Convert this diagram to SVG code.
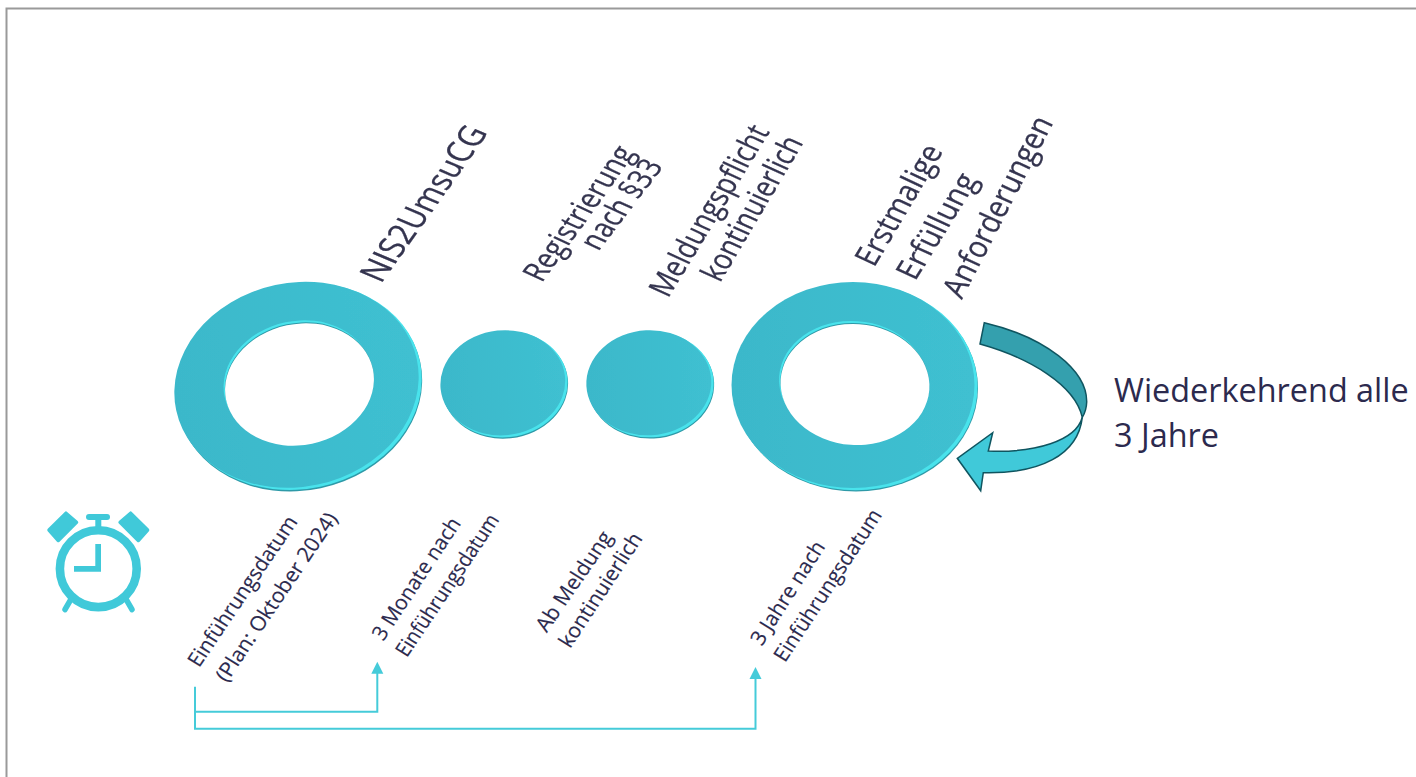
<svg xmlns="http://www.w3.org/2000/svg" width="1416" height="777" viewBox="0 0 1416 777">
<style>
text{font-family:"Open Sans","Noto Sans","Liberation Sans",sans-serif;fill:#2c2a4e}
.top{font-size:32px;fill:#34344f;stroke:#34344f;stroke-width:.3px}
.nis{font-size:35px;fill:#34344f;stroke:#34344f;stroke-width:.3px}
.sm{font-size:21px;stroke:#2c2a4e;stroke-width:.15px}
.side{font-size:32.400px}
.face{fill:url(#faceGrad)}
.lit{fill:#48e3ec}
.dk{fill:#2f9aa8}
.conn{fill:none;stroke:#45cbd9;stroke-width:2}
.tip{fill:#45cbd9}
.cl{fill:#40c9d9}
.cls{fill:none;stroke:#40c9d9}
</style>
<defs>
<linearGradient id="faceGrad" x1="0" y1="0" x2="1" y2="0"><stop offset="0" stop-color="#3bb8ca"/><stop offset="1" stop-color="#3fc0d1"/></linearGradient>
<filter id="soft" x="-5%" y="-5%" width="110%" height="110%"><feGaussianBlur stdDeviation="0.7"/></filter>
<filter id="txt" x="-10%" y="-30%" width="120%" height="160%"><feGaussianBlur stdDeviation="0.35"/></filter>
</defs>
<rect width="1416" height="777" fill="#fff"/>
<path d="M6.500 777V8.500H1416" fill="none" stroke="#9a9a9a" stroke-width="2"/>
<g id="ring-1" filter="url(#soft)">
<ellipse class="dk" cx="299.500" cy="388" rx="123.500" ry="102.500" transform="rotate(-12 299.500 388)"/>
<ellipse class="lit" cx="299" cy="386.500" rx="123.500" ry="102.500" transform="rotate(-12 299 386.500)"/>
<ellipse class="face" cx="296.500" cy="384.800" rx="123" ry="102" transform="rotate(-12 296.500 384.800)"/>
<ellipse class="lit" cx="298" cy="381.500" rx="75" ry="60.500" transform="rotate(-12 298 381.500)"/>
<ellipse fill="#2f9aa8" cx="299.300" cy="383.500" rx="75" ry="60.500" transform="rotate(-12 299.300 383.500)"/>
<ellipse fill="#fff" cx="299.500" cy="384.500" rx="75" ry="60.500" transform="rotate(-12 299.500 384.500)"/>
</g>
<g id="disc-1" filter="url(#soft)">
<ellipse class="dk" cx="505.200" cy="385.500" rx="63" ry="53" transform="rotate(-6 505.200 385.500)"/>
<ellipse class="lit" cx="504.700" cy="384.300" rx="63" ry="53" transform="rotate(-6 504.700 384.300)"/>
<ellipse class="face" cx="502.800" cy="382.800" rx="62.500" ry="52.500" transform="rotate(-6 502.800 382.800)"/>
</g>
<g id="disc-2" filter="url(#soft)">
<ellipse class="dk" cx="651.200" cy="385.500" rx="63" ry="53" transform="rotate(-3 651.200 385.500)"/>
<ellipse class="lit" cx="650.700" cy="384.300" rx="63" ry="53" transform="rotate(-3 650.700 384.300)"/>
<ellipse class="face" cx="648.800" cy="382.800" rx="62.500" ry="52.500" transform="rotate(-3 648.800 382.800)"/>
</g>
<g id="ring-2" filter="url(#soft)">
<ellipse class="dk" cx="856" cy="388" rx="122" ry="103.500"/>
<ellipse class="lit" cx="855.500" cy="386.800" rx="122" ry="103.500"/>
<ellipse class="face" cx="853" cy="385" rx="121.500" ry="103"/>
<ellipse class="lit" cx="853.500" cy="381.500" rx="74.500" ry="60.500" transform="rotate(4 853.500 381.500)"/>
<ellipse fill="#2f9aa8" cx="854.800" cy="383.500" rx="74.500" ry="60.500" transform="rotate(4 854.800 383.500)"/>
<ellipse fill="#fff" cx="855" cy="384.500" rx="74.500" ry="60.500" transform="rotate(4 855 384.500)"/>
</g>
<g id="cycle-arrow" stroke="#0f5560" stroke-width="1.500" stroke-linejoin="miter">
<path fill="#40c9d9" d="M1082.300 417.300C1076 441 1035 453 988.300 451L992.700 432.700L957.300 458.300L980.700 490.700L983.300 472.700C1040 474 1078 455 1082.300 417.300Z"/>
<path fill="#34a0ae" d="M984.300 322.700C1045 337 1087 370 1086.700 402C1086.500 408 1085 413 1082.300 417.300C1075 385 1030 358 980 344Z"/>
</g>
<g id="clock">
<path class="cl" d="M66 513.200 76.500 522.300 58.300 540.500 49 530Z" stroke="#40c9d9" stroke-width="3.500" stroke-linejoin="round"/>
<path class="cl" d="M130.600 513.200 120.100 522.300 138.300 540.500 147.600 530Z" stroke="#40c9d9" stroke-width="3.500" stroke-linejoin="round"/>
<circle class="cls" cx="98.300" cy="568.700" r="38.400" stroke-width="8.600"/>
<rect class="cl" x="86" y="514" width="24" height="6" rx="3"/>
<rect class="cl" x="95.300" y="518" width="6" height="12"/>
<path class="cl" d="M95.300 544H101V571.700H74V566H95.300Z"/>
<path class="cls" d="M70.500 600 65 609.500M126.500 600 132 609.500" stroke-width="5.500" stroke-linecap="round"/>
</g>
<g id="connectors">
<path class="conn" d="M195 686.700V728.700H755.500V678"/>
<path class="conn" d="M195 711.700H377.300V672"/>
<path class="tip" d="M377.300 661.700 383.300 673.700H371.300Z"/>
<path class="tip" d="M755.500 667 761.500 679H749.500Z"/>
</g>
<g id="label-nis2" filter="url(#txt)"><text class="nis" textLength="186" lengthAdjust="spacingAndGlyphs" transform="matrix(.578 -.815 .92 .39 381 284)">NIS2UmsuCG</text></g>
<g id="label-registrierung" filter="url(#txt)">
<text class="top" textLength="161" lengthAdjust="spacingAndGlyphs" transform="matrix(.583 -.8125 .91 .42 541.700 283.300)">Registrierung</text>
<text class="top" textLength="108" lengthAdjust="spacingAndGlyphs" transform="matrix(.607 -.794 .91 .42 598.300 251.700)">nach §33</text>
</g>
<g id="label-meldung" filter="url(#txt)">
<text class="top" textLength="196" lengthAdjust="spacingAndGlyphs" transform="matrix(.521 -.854 .91 .42 668 298.800)">Meldungspflicht</text>
<text class="top" textLength="164" lengthAdjust="spacingAndGlyphs" transform="matrix(.511 -.859 .91 .42 720 283.300)">kontinuierlich</text>
</g>
<g id="label-erstmalig" filter="url(#txt)">
<text class="top" textLength="136" lengthAdjust="spacingAndGlyphs" transform="matrix(.511 -.859 .91 .42 874 268)">Erstmalige</text>
<text class="top" textLength="120" lengthAdjust="spacingAndGlyphs" transform="matrix(.528 -.849 .91 .42 915 281.700)">Erfüllung</text>
<text class="top" textLength="200" lengthAdjust="spacingAndGlyphs" transform="matrix(.46 -.888 .91 .42 961.700 300)">Anforderungen</text>
</g>
<g id="label-date-1">
<text class="sm" textLength="177" lengthAdjust="spacingAndGlyphs" transform="matrix(.561 -.828 .85 .53 199 668.300)">Einführungsdatum</text>
<text class="sm" textLength="199" lengthAdjust="spacingAndGlyphs" transform="matrix(.561 -.829 .85 .53 226.700 683.300)">(Plan: Oktober 2024)</text>
</g>
<g id="label-date-2">
<text class="sm" textLength="142" lengthAdjust="spacingAndGlyphs" transform="matrix(.552 -.834 .85 .53 383.300 641.700)">3 Monate nach</text>
<text class="sm" textLength="167" lengthAdjust="spacingAndGlyphs" transform="matrix(.559 -.829 .85 .53 406.700 658.300)">Einführungsdatum</text>
</g>
<g id="label-date-3">
<text class="sm" textLength="117" lengthAdjust="spacingAndGlyphs" transform="matrix(.568 -.825 .85 .53 546.700 633.300)">Ab Meldung</text>
<text class="sm" textLength="133" lengthAdjust="spacingAndGlyphs" transform="matrix(.551 -.834 .85 .53 570 649.300)">kontinuierlich</text>
</g>
<g id="label-date-4">
<text class="sm" textLength="119" lengthAdjust="spacingAndGlyphs" transform="matrix(.54 -.841 .85 .53 761.700 646.700)">3 Jahre nach</text>
<text class="sm" textLength="177.600" lengthAdjust="spacingAndGlyphs" transform="matrix(.55 -.835 .85 .53 785 663.300)">Einführungsdatum</text>
</g>
<g id="label-recurring">
<text class="side" x="1114" y="401.500">Wiederkehrend alle</text>
<text class="side" x="1114" y="446.500">3 Jahre</text>
</g>
</svg>
